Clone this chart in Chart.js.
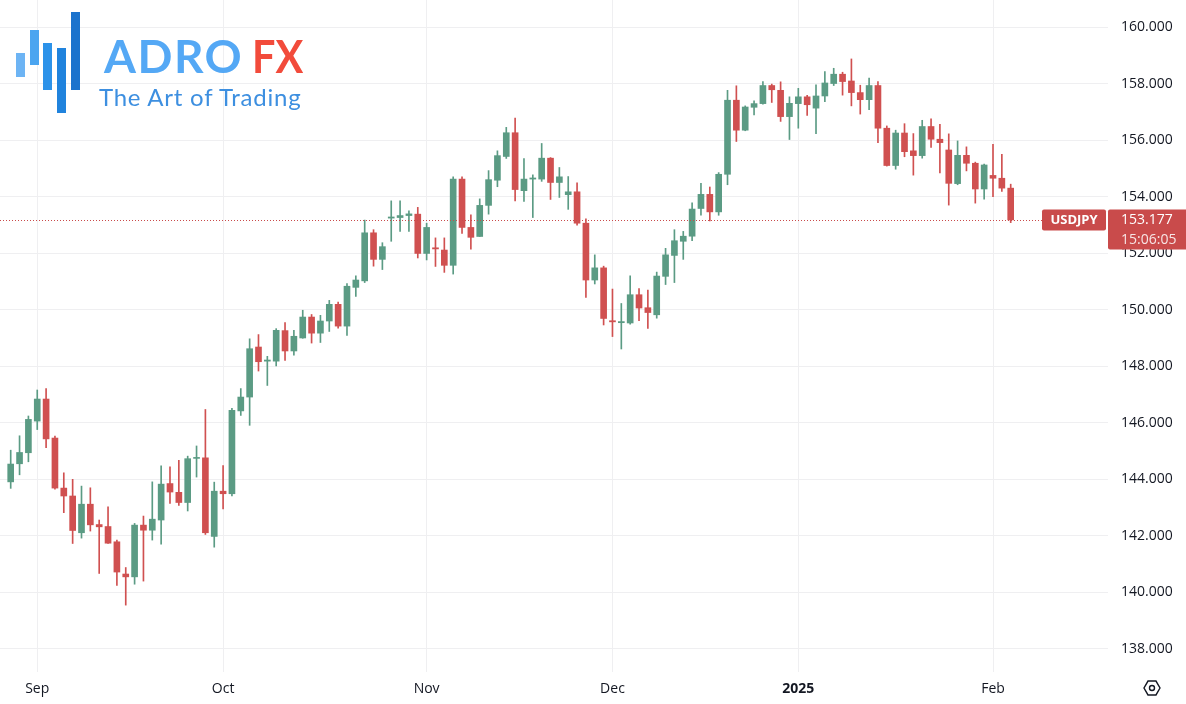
<!DOCTYPE html>
<html>
<head>
<meta charset="utf-8">
<script src="https://cdn.jsdelivr.net/npm/chart.js@4.4.1/dist/chart.umd.min.js"></script>
<style>
  html, body { margin:0; padding:0; background:#fff; }
  #wrap { position:relative; width:1186px; height:704px; overflow:hidden; }
  #c { position:absolute; left:0; top:0; }
  .bar { position:absolute; width:9px; }
  .brand { position:absolute; top:28px; font-family:Lato, "Open Sans", sans-serif; font-weight:700; font-size:46px; line-height:56px; white-space:nowrap; }
  .tag { position:absolute; left:99px; top:82px; font-family:Lato, "Open Sans", sans-serif; font-weight:400; font-size:24px; line-height:30px; letter-spacing:0.75px; color:#3d8fe0; white-space:nowrap; }
</style>
</head>
<body>
<div id="wrap">
  <canvas id="c" width="1186" height="704"></canvas>
  <div class="bar" style="left:16px;top:53px;height:24px;background:#6db4f4;"></div>
  <div class="bar" style="left:30px;top:30px;height:35px;background:#4ba5f0;"></div>
  <div class="bar" style="left:43px;top:43px;height:47px;background:#2c92e9;"></div>
  <div class="bar" style="left:57px;top:48px;height:65px;background:#2083dd;"></div>
  <div class="bar" style="left:71px;top:12px;height:78px;background:#1b73cd;"></div>
  <div class="brand" style="left:104px;color:#54a8f5;letter-spacing:1.5px;">ADRO</div>
  <div class="brand" style="left:252px;color:#f24b3b;transform:scaleX(0.9);transform-origin:left top;">FX</div>
  <div class="tag">The Art of Trading</div>
</div>
<script>
// ---- data ----
const dates = [
  "2024-08-28","2024-08-29","2024-08-30",
  "2024-09-02","2024-09-03","2024-09-04","2024-09-05","2024-09-06",
  "2024-09-09","2024-09-10","2024-09-11","2024-09-12","2024-09-13",
  "2024-09-16","2024-09-17","2024-09-18","2024-09-19","2024-09-20",
  "2024-09-23","2024-09-24","2024-09-25","2024-09-26","2024-09-27","2024-09-30",
  "2024-10-01","2024-10-02","2024-10-03","2024-10-04",
  "2024-10-07","2024-10-08","2024-10-09","2024-10-10","2024-10-11",
  "2024-10-14","2024-10-15","2024-10-16","2024-10-17","2024-10-18",
  "2024-10-21","2024-10-22","2024-10-23","2024-10-24","2024-10-25",
  "2024-10-28","2024-10-29","2024-10-30","2024-10-31",
  "2024-11-01",
  "2024-11-04","2024-11-05","2024-11-06","2024-11-07","2024-11-08",
  "2024-11-11","2024-11-12","2024-11-13","2024-11-14","2024-11-15",
  "2024-11-18","2024-11-19","2024-11-20","2024-11-21","2024-11-22",
  "2024-11-25","2024-11-26","2024-11-27","2024-11-28","2024-11-29",
  "2024-12-02","2024-12-03","2024-12-04","2024-12-05","2024-12-06",
  "2024-12-09","2024-12-10","2024-12-11","2024-12-12","2024-12-13",
  "2024-12-16","2024-12-17","2024-12-18","2024-12-19","2024-12-20",
  "2024-12-23","2024-12-24","2024-12-26","2024-12-27",
  "2024-12-30","2024-12-31",
  "2025-01-02","2025-01-03",
  "2025-01-06","2025-01-07","2025-01-08","2025-01-09","2025-01-10",
  "2025-01-13","2025-01-14","2025-01-15","2025-01-16","2025-01-17",
  "2025-01-20","2025-01-21","2025-01-22","2025-01-23","2025-01-24",
  "2025-01-27","2025-01-28","2025-01-29","2025-01-30","2025-01-31",
  "2025-02-03","2025-02-04","2025-02-05"
];
const opens = [
  143.91,144.55,144.94,146.06,146.84,145.46,143.69,143.41,142.11,143.12,
  142.40,142.33,141.79,140.65,140.55,142.38,142.20,142.56,143.85,143.54,
  143.18,144.74,144.76,141.98,143.58,143.49,146.42,146.91,148.68,148.18,
  148.18,149.26,148.54,149.00,149.74,149.17,149.60,150.19,149.42,150.79,
  151.02,152.72,151.78,153.24,153.26,153.33,153.38,151.99,152.19,152.11,
  151.57,154.62,152.91,152.59,153.69,154.58,155.42,156.26,154.21,154.62,
  154.62,155.36,154.50,154.07,154.17,153.06,151.05,151.48,149.61,149.54,
  149.53,150.53,150.07,149.82,151.18,151.92,152.42,152.60,153.58,154.08,
  153.46,154.79,157.41,156.35,157.16,157.29,157.93,157.76,156.83,157.29,
  157.53,157.13,157.56,158.00,158.33,158.09,157.68,157.43,157.93,156.42,
  155.10,156.25,155.62,155.45,156.48,156.03,155.65,154.46,155.46,155.18,
  154.27,154.75,154.65,154.30
];
const highs = [
  145.03,145.54,146.24,147.16,147.21,145.53,144.23,144.00,143.76,143.70,
  142.56,143.03,141.85,140.88,142.44,142.70,143.91,144.48,144.44,144.67,
  144.82,145.18,146.47,143.90,144.49,146.51,147.21,148.97,149.12,148.35,
  149.33,149.54,149.27,149.98,149.83,149.80,150.33,150.27,150.92,151.20,
  153.17,152.83,152.37,153.85,153.85,153.50,153.62,153.06,152.54,152.54,
  154.70,154.70,153.36,153.92,154.92,155.62,156.45,156.78,155.35,154.77,
  155.88,155.38,155.03,154.71,154.49,153.21,151.94,151.54,150.73,150.22,
  151.20,150.75,150.69,151.33,152.17,152.83,152.77,153.78,154.47,154.34,
  154.85,157.76,157.92,157.21,157.39,158.07,157.98,158.06,157.53,157.83,
  157.58,157.95,158.42,158.54,158.40,158.87,157.94,158.19,158.07,156.50,
  156.35,156.58,156.23,156.70,156.75,156.56,156.22,155.97,155.76,155.22,
  155.15,155.85,155.50,154.44
];
const lows = [
  143.68,144.16,144.62,145.76,145.12,143.65,142.82,141.73,141.92,142.17,
  140.67,141.73,140.25,139.55,140.29,140.40,141.85,141.71,143.15,143.08,
  142.88,144.08,142.05,141.60,142.95,143.41,146.26,145.91,147.83,147.32,
  148.01,148.21,148.39,148.99,148.82,148.84,149.23,149.35,149.09,150.47,
  150.96,151.54,151.42,152.42,152.77,152.77,151.83,151.76,151.53,151.32,
  151.26,152.70,152.14,152.59,153.38,154.35,155.35,153.85,153.83,153.26,
  154.54,153.90,153.97,153.55,152.99,150.43,150.91,149.46,149.05,148.61,
  149.49,149.61,149.34,149.70,150.89,150.96,151.78,152.44,153.34,153.14,
  153.34,154.42,155.95,156.33,156.89,157.27,157.33,156.66,156.02,156.42,
  156.87,156.23,157.36,157.93,157.59,157.21,156.92,157.08,155.91,155.08,
  154.97,155.41,154.76,155.36,155.74,154.84,153.70,154.42,154.91,153.77,
  153.91,154.00,154.18,153.08
];
const closes = [
  144.54,144.95,146.12,146.84,145.43,143.69,143.41,142.19,143.12,142.39,
  142.32,141.74,140.72,140.55,142.38,142.20,142.59,143.83,143.55,143.18,
  144.73,144.77,142.11,143.58,143.49,146.44,146.91,148.62,148.16,148.22,
  149.27,148.54,149.06,149.74,149.17,149.60,150.19,149.42,150.83,151.05,
  152.72,151.78,152.23,153.28,153.33,153.39,151.99,152.91,152.15,151.57,
  154.62,152.91,152.56,153.69,154.60,155.45,156.26,154.25,154.62,154.66,
  155.36,154.50,154.70,154.17,153.06,151.05,151.48,149.69,149.57,149.58,
  150.53,150.06,149.90,151.19,151.94,152.44,152.60,153.56,154.08,153.46,
  154.79,157.41,156.35,157.17,157.29,157.93,157.78,156.83,157.30,157.53,
  157.25,157.56,158.02,158.33,158.07,157.68,157.43,157.93,156.42,155.10,
  156.25,155.59,155.45,156.48,156.03,155.91,154.47,155.46,155.18,154.27,
  155.12,154.65,154.30,153.177
];
const symbol = "USDJPY";
const lastPrice = 153.177;
const countdown = "15:06:05";
const monthTickIdx = [3, 24, 47, 68, 89, 111];
const monthLabels = ["Sep", "Oct", "Nov", "Dec", "2025", "Feb"];
const yTicks = [138,140,142,144,146,148,150,152,154,156,158,160];

// ---- styles ----
const UP = '#5b9b84', DOWN = '#d05050', LABEL_RED = '#c94b4b';
const GRID = '#efeff1', TEXT = '#131722';
const FONT = '"Open Sans", "Noto Sans", sans-serif';

const colors = opens.map((o, i) => closes[i] >= o ? UP : DOWN);
const wickData = dates.map((d, i) => ({ x: i, y: [lows[i], highs[i]] }));
const bodyData = dates.map((d, i) => ({ x: i, y: [opens[i], closes[i]] }));

const pxPerBar = 1000 / 113;
const xMin = -10.7 / pxPerBar;
const xMax = xMin + 1108 / pxPerBar;
const yMax = 160 + 27 / 28.27;
const yMin = 160 - 645 / 28.27;

const noPad = s => { s.paddingTop = 0; s.paddingBottom = 0; s.paddingLeft = 0; s.paddingRight = 0; };

const overlay = {
  id: 'overlay',
  afterDatasetsDraw(chart) {
    const { ctx, chartArea, scales } = chart;
    const y = Math.round(scales.y.getPixelForValue(lastPrice)) + 0.5;
    ctx.save();
    ctx.strokeStyle = LABEL_RED;
    ctx.lineWidth = 1;
    ctx.setLineDash([1, 2]);
    ctx.beginPath();
    ctx.moveTo(chartArea.left, y);
    ctx.lineTo(chartArea.right - 66, y);
    ctx.stroke();
    ctx.restore();
  },
  afterDraw(chart) {
    const { ctx, chartArea, scales } = chart;
    const y = scales.y.getPixelForValue(lastPrice);
    ctx.save();
    // symbol tag
    ctx.fillStyle = LABEL_RED;
    ctx.beginPath();
    ctx.roundRect(chartArea.right - 66, y - 10.5, 64, 21, 2);
    ctx.fill();
    ctx.fillStyle = '#fff';
    ctx.font = 'bold 13px ' + FONT;
    ctx.textAlign = 'center';
    ctx.textBaseline = 'middle';
    ctx.fillText(symbol, chartArea.right - 34, y + 0.5);
    // price box
    ctx.fillStyle = LABEL_RED;
    ctx.beginPath();
    ctx.roundRect(chartArea.right, y - 10.5, 1186 - chartArea.right, 40, [2, 0, 0, 2]);
    ctx.fill();
    ctx.fillStyle = '#fff';
    ctx.font = '14px ' + FONT;
    ctx.textAlign = 'left';
    ctx.fillText(lastPrice.toFixed(3), chartArea.right + 13, y + 0.5);
    ctx.fillStyle = 'rgba(255,255,255,0.85)';
    ctx.fillText(countdown, chartArea.right + 13, y + 20);
    // settings icon
    const cx = 1152, cy = 688, r = 8;
    ctx.strokeStyle = TEXT;
    ctx.lineWidth = 1.4;
    ctx.beginPath();
    for (let k = 0; k < 6; k++) {
      const a = Math.PI / 3 * k;
      const px = cx + r * Math.cos(a), py = cy + r * Math.sin(a);
      if (k === 0) ctx.moveTo(px, py); else ctx.lineTo(px, py);
    }
    ctx.closePath();
    ctx.stroke();
    ctx.beginPath();
    ctx.arc(cx, cy, 2.5, 0, Math.PI * 2);
    ctx.stroke();
    ctx.restore();
  }
};

new Chart(document.getElementById('c'), {
  type: 'bar',
  data: {
    datasets: [
      { label: 'wick', data: wickData, backgroundColor: colors, borderWidth: 0, barThickness: 1, grouped: false, order: 2 },
      { label: 'body', data: bodyData, backgroundColor: colors, borderWidth: 0, barThickness: 6, minBarLength: 1, grouped: false, order: 1 }
    ]
  },
  options: {
    responsive: false,
    animation: false,
    layout: { padding: 0 },
    plugins: { legend: { display: false }, tooltip: { enabled: false } },
    scales: {
      x: {
        type: 'linear', min: xMin, max: xMax, offset: false,
        afterBuildTicks: s => { s.ticks = monthTickIdx.map(v => ({ value: v })); },
        afterFit: s => { s.height = 32; noPad(s); },
        grid: { color: GRID, drawTicks: false, offset: false },
        border: { display: false },
        ticks: {
          autoSkip: false, maxRotation: 0, padding: 9, color: TEXT,
          font: ctx => ({ family: FONT, size: 14, weight: (ctx.tick && ctx.tick.label === '2025') ? 'bold' : 'normal' }),
          callback: v => monthLabels[monthTickIdx.indexOf(v)]
        }
      },
      y: {
        position: 'right', min: yMin, max: yMax,
        afterBuildTicks: s => { s.ticks = yTicks.map(v => ({ value: v })); },
        afterFit: s => { s.width = 78; noPad(s); },
        grid: { color: GRID, drawTicks: false },
        border: { display: false },
        ticks: { padding: 13, color: TEXT, font: { family: FONT, size: 14 }, callback: v => v.toFixed(3) }
      }
    }
  },
  plugins: [overlay]
});
</script>
</body>
</html>
